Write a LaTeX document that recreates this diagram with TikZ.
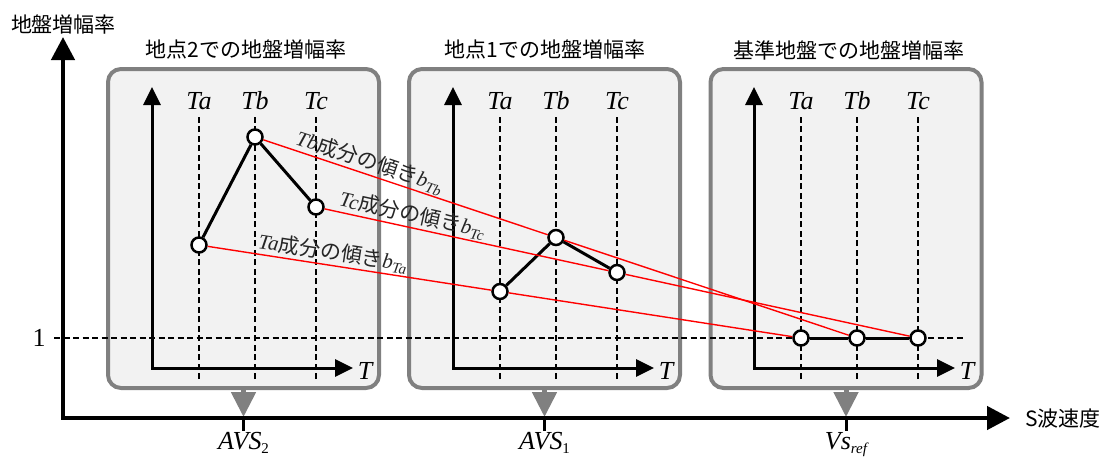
\documentclass[tikz,border=0pt]{standalone}
\usepackage{fontspec}
\setmainfont{Liberation Serif}
\newfontfamily\jpfont{Noto Sans CJK JP}
\usetikzlibrary{arrows.meta,calc}

\newcommand{\lowtxt}[1]{\raisebox{-4pt}{\fontsize{15}{15}\selectfont #1}}

\begin{document}
\begin{tikzpicture}[x=1pt,y=-1pt]
	\tikzset{
		panel/.style={draw=gray, line width=4pt, fill=black!5, rounded corners=13pt,
			minimum width=271pt, minimum height=319pt, inner sep=0pt},
		jptext/.style={font=\jpfont\fontsize{21}{25}\selectfont, inner sep=1pt},
		itext/.style={font=\fontsize{26}{30}\selectfont\itshape, inner sep=1pt},
		mainaxis/.style={line width=4.5pt, {Triangle[length=23pt,width=23pt]}-{Triangle[length=23pt,width=23pt]}},
		subaxis/.style={line width=3pt, {Triangle[length=18pt,width=17pt]}-{Triangle[length=18pt,width=17pt]}},
		guide/.style={line width=1.8pt, dash pattern=on 6pt off 3.5pt},
		ampdot/.style={circle, draw, line width=2.5pt, fill=white, minimum size=15pt, inner sep=0pt},
		ampline/.style={line width=3pt},
		slope/.style={red, line width=1.4pt},
		slopelabel/.style={sloped, above, inner sep=1pt, text=black!85,
			font=\fontsize{21}{24}\selectfont},
		pointer/.style={gray, line width=5pt, -{Triangle[length=25pt,width=24pt]}},
		vtick/.style={line width=3pt},
	}
	\useasboundingbox (0,0) rectangle (1117,459);

	% panels
	\node[panel] (panel2) at (243.5,228.5) {};
	\node[panel] (panel1) at (544.5,228.5) {};
	\node[panel] (panelref) at (846,228.5) {};
	\node[jptext] (title2) at (246,50) {地点2での地盤増幅率};
	\node[jptext] (title1) at (545,50) {地点1での地盤増幅率};
	\node[jptext] (titleref) at (849,50) {基準地盤での地盤増幅率};

	% level 1
	\node[font=\fontsize{26}{30}\selectfont] (one) at (39,338) {1};
	\coordinate (oneend) at (963,338);
	\draw[guide, shorten <=5pt] (one) -- (oneend);

	% period guides
	\draw[guide] (199,379) -- (199,117) node[itext, above=5pt] (ta2) {Ta};
	\draw[guide] (255,379) -- (255,117) node[itext, above=5pt] (tb2) {Tb};
	\draw[guide] (316,379) -- (316,117) node[itext, above=5pt] (tc2) {Tc};
	\draw[guide] (500,379) -- (500,117) node[itext, above=5pt] (ta1) {Ta};
	\draw[guide] (556,379) -- (556,117) node[itext, above=5pt] (tb1) {Tb};
	\draw[guide] (617,379) -- (617,117) node[itext, above=5pt] (tc1) {Tc};
	\draw[guide] (801,379) -- (801,117) node[itext, above=5pt] (ta0) {Ta};
	\draw[guide] (857,379) -- (857,117) node[itext, above=5pt] (tb0) {Tb};
	\draw[guide] (918,379) -- (918,117) node[itext, above=5pt] (tc0) {Tc};

	% small axes
	\draw[subaxis] (152,87) -- (152,368) -- (353,368);
	\draw[subaxis] (453,87) -- (453,368) -- (654,368);
	\draw[subaxis] (754,87) -- (754,368) -- (955,368);
	\node[itext] (t2) at (365,371) {T};
	\node[itext] (t1) at (666,371) {T};
	\node[itext] (t0) at (967,371) {T};

	% amplification points
	\node[ampdot] (a2) at (199,245) {};
	\node[ampdot] (b2) at (255,137) {};
	\node[ampdot] (c2) at (316,207) {};
	\node[ampdot] (a0) at (801,338) {};
	\node[ampdot] (b0) at (857,338) {};
	\node[ampdot] (c0) at (918,338) {};
	\node[ampdot] (a1) at ($(a2)!0.5!(a0)$) {};
	\node[ampdot] (b1) at ($(b2)!0.5!(b0)$) {};
	\node[ampdot] (c1) at ($(c2)!0.5!(c0)$) {};

	\draw[ampline] (a2) -- (b2) -- (c2);
	\draw[ampline] (a1) -- (b1) -- (c1);
	\draw[ampline] (a0) -- (b0) -- (c0);

	% slopes
	\draw[slope] (b2) -- node[slopelabel, pos=0.36]
		{\textit{Tb}{\jpfont 成分の傾き}\textit{b}\lowtxt{\textit{Tb}}} (b1) -- (b0);
	\draw[slope] (c2) -- node[slopelabel, pos=0.30]
		{\textit{Tc}{\jpfont 成分の傾き}\textit{b}\lowtxt{\textit{Tc}}} (c1) -- (c0);
	\draw[slope] (a2) -- node[slopelabel, pos=0.435]
		{\textit{Ta}{\jpfont 成分の傾き}\textit{b}\lowtxt{\textit{Ta}}} (a1) -- (a0);

	% velocity axis
	\coordinate (v2) at (243.5,417);
	\coordinate (v1) at (544.5,417);
	\coordinate (v0) at (846,417);
	\draw[pointer] (panel2.south) -- (v2);
	\draw[pointer] (panel1.south) -- (v1);
	\draw[pointer] (panelref.south) -- (v0);

	\coordinate (orig) at (63,418);
	\coordinate (ytip) at (63,37);
	\coordinate (xtip) at (1010,418);
	\draw[mainaxis] (ytip) -- (orig) -- (xtip);
	\node[jptext] (ylab) at (63.5,25) {地盤増幅率};
	\node[jptext, anchor=west] (xlab) at (1024,419) {S波速度};

	\node[itext, anchor=north] (avs2) at (243.5,431) {AVS\lowtxt{\upshape 2}};
	\node[itext, anchor=north] (avs1) at (544.5,431) {AVS\lowtxt{\upshape 1}};
	\node[itext, anchor=north] (vsref) at (846,431) {Vs\lowtxt{ref}};
	\draw[vtick] (v2) -- (avs2.north);
	\draw[vtick] (v1) -- (avs1.north);
	\draw[vtick] (v0) -- (vsref.north);
\end{tikzpicture}
\end{document}
